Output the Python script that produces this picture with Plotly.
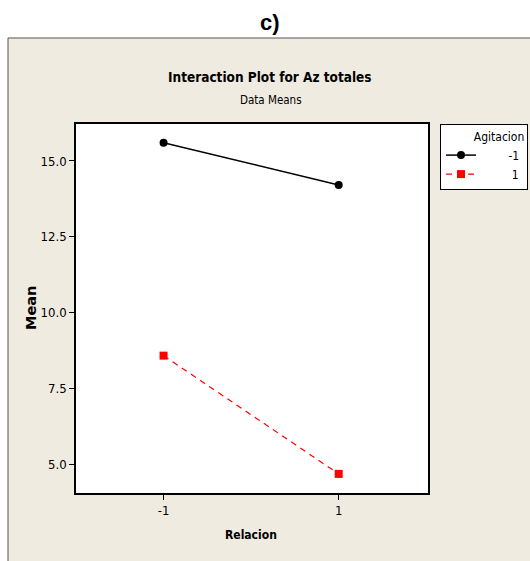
import plotly.graph_objects as go

relacion = [-1, 1]
agitacion_labels = ["-1", "1"]
mean_agit_m1 = [15.60, 14.21]
mean_agit_p1 = [8.58, 4.68]
y_ticks = [5.0, 7.5, 10.0, 12.5, 15.0]
x_ticks = [-1, 1]

FONT = "Liberation Sans Narrow, DejaVu Sans Condensed, Arial Narrow, sans-serif"
NB = "\u00a0"

W, H = 530, 561
L, R, T, B = 76, 428, 124, 493
pw, ph = R - L, B - T
def px(x): return (x - L) / pw
def py(y): return (B - y) / ph

fig = go.Figure()
fig.add_trace(go.Scatter(x=relacion, y=mean_agit_m1, name=NB * 8 + agitacion_labels[0],
                         mode="lines+markers",
                         line=dict(color="black", width=1.5),
                         marker=dict(symbol="circle", size=8, color="black")))
fig.add_trace(go.Scatter(x=relacion, y=mean_agit_p1, name=NB * 9 + agitacion_labels[1],
                         mode="lines+markers",
                         line=dict(color="#FF0000", width=1.2, dash="6px,5px"),
                         marker=dict(symbol="square", size=8, color="#FF0000")))

def ann(text, x, y, size, family=FONT, angle=0):
    return dict(text=text, x=px(x), y=py(y), xref="paper", yref="paper",
                xanchor="center", yanchor="middle", showarrow=False,
                textangle=angle, font=dict(family=family, size=size, color="black"))

fig.update_layout(
    width=W, height=H,
    margin=dict(l=L, r=W - R, t=T, b=H - B, autoexpand=False),
    paper_bgcolor="white", plot_bgcolor="white",
    font=dict(family=FONT, size=13, color="black"),
    showlegend=True,
    legend=dict(x=px(440), y=1.0, xanchor="left", yanchor="top",
                bgcolor="white", bordercolor="black", borderwidth=1,
                title=dict(text=NB * 9 + "Agitacion", font=dict(size=12, family=FONT)),
                font=dict(size=12, family=FONT), itemwidth=30),
    shapes=[
        dict(type="rect", xref="paper", yref="paper", layer="below",
             x0=px(8), x1=px(531), y0=py(562), y1=py(38),
             fillcolor="#EFEBE0", line=dict(color="#555555", width=1)),
        dict(type="rect", xref="paper", yref="paper", layer="below",
             x0=0, x1=1, y0=0, y1=1, fillcolor="white", line=dict(width=0)),
    ],
    annotations=[
        ann("<b>c)</b>", 270, 22, 22, family="Liberation Sans, Arial, sans-serif"),
        ann("<b>Interaction Plot for Az totales</b>", 270, 77, 13.5),
        ann("Data Means", 271, 100, 11.5),
        ann("<b>Mean</b>", 31, 308, 14.5, family="DejaVu Sans, Verdana, sans-serif", angle=-90),
        ann("<b>Relacion</b>", 251, 535, 12),
    ],
)
fig.update_xaxes(range=[-2.0, 2.02], tickvals=x_ticks, ticktext=["-1", "1"],
                 showline=True, linecolor="black", linewidth=1.5, mirror=True,
                 ticks="outside", ticklen=5, tickcolor="black", showgrid=False,
                 zeroline=False, tickfont=dict(size=13))
fig.update_yaxes(range=[4.05, 16.22], tickvals=y_ticks,
                 ticktext=[f"{v:.1f}" for v in y_ticks],
                 showline=True, linecolor="black", linewidth=1.5, mirror=True,
                 ticks="outside", ticklen=5, tickcolor="black", showgrid=False,
                 zeroline=False, tickfont=dict(size=13))
fig.write_html("out.html")
